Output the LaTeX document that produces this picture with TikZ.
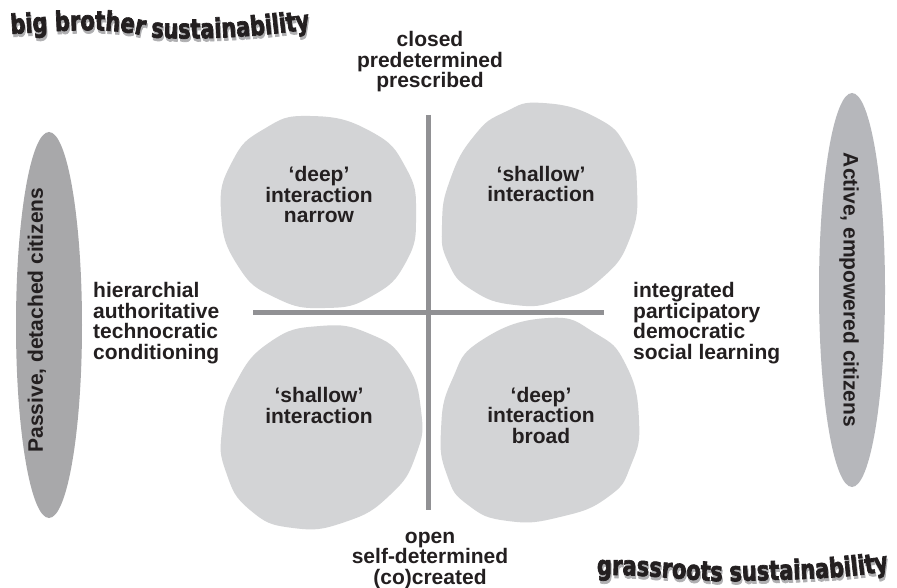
\documentclass[tikz,border=0pt]{standalone}
\usepackage{fontspec}
\setmainfont{Liberation Sans}
\newfontfamily\titlefont[FakeBold=2.5, FakeStretch=0.86]{DejaVu Sans Condensed Bold}
\usetikzlibrary{decorations.text}
\definecolor{ink}{RGB}{35,31,32}
\definecolor{blobgray}{RGB}{211,212,214}
\definecolor{axisgray}{RGB}{145,145,148}
\definecolor{leftgray}{RGB}{168,168,170}
\definecolor{rightgray}{RGB}{182,183,187}
\definecolor{shadowgray}{RGB}{175,175,177}
\tikzset{
  lbl/.style={font=\fontsize{21}{20.5}\selectfont\bfseries, text=ink, inner sep=0pt, align=center},
  lbll/.style={lbl, align=left},
  blob/.style={fill=blobgray},
  axis/.style={draw=axisgray, line width=5pt},
}
\begin{document}
\begin{tikzpicture}[x=1pt,y=-1pt]
\fill[white] (0,0) rectangle (897,588);
\useasboundingbox (0,0) rectangle (897,588);
% side ellipses
\fill[leftgray] (49,325) ellipse [x radius=33, y radius=193];
\fill[rightgray] (852,290) ellipse [x radius=33, y radius=197];
% blobs
\fill[blob] plot[smooth cycle, tension=0.85] coordinates {(310,116) (370,131) (406,168) (416,215) (406,262) (372,296) (325,308) (276,298) (238,266) (221,212) (232,162) (264,129)};
\fill[blob] plot[smooth cycle, tension=0.85] coordinates {(543,103) (597,118) (627,148) (637,188) (630,238) (602,278) (560,300) (515,305) (472,290) (448,262) (442,225) (450,180) (474,136) (505,112)};
\fill[blob] plot[smooth cycle, tension=0.85] coordinates {(320,326) (370,334) (405,362) (421,410) (416,455) (390,495) (345,522) (293,528) (250,510) (226,472) (222,430) (235,384) (270,342)};
\fill[blob] plot[smooth cycle, tension=0.85] coordinates {(548,318) (595,333) (626,365) (639,420) (631,465) (608,497) (560,517) (508,521) (468,505) (447,475) (441,430) (452,380) (482,340)};
% axes
\coordinate (vtop) at (428,115);
\coordinate (vbot) at (428,510);
\coordinate (hl) at (253,312);
\coordinate (hr) at (604,312);
\draw[axis] (vtop) -- (vbot);
\draw[axis] (hl) -- (hr);
% labels (anchor base = baseline of the last line)
\node[lbl, anchor=base] (closed) at (430,88) {closed\\predetermined\\prescribed};
\node[lbl, anchor=base] (open) at (430,584) {open\\self-determined\\(co)created};
\node[lbll, anchor=base west] (left) at (93,359) {hierarchial\\authoritative\\technocratic\\conditioning};
\node[lbll, anchor=base west] (right) at (633,359) {integrated\\participatory\\democratic\\social learning};
\node[lbl, anchor=base] (tl) at (319,223) {`deep'\\interaction\\narrow};
\node[lbl, anchor=base] (tr) at (541,202) {`shallow'\\interaction};
\node[lbl, anchor=base] (bl) at (319,423) {`shallow'\\interaction};
\node[lbl, anchor=base] (br) at (541,443) {`deep'\\interaction\\broad};
\node[lbl, rotate=90] (passive) at (37,320) {Passive, detached citizens};
\node[lbl, rotate=-90] (active) at (849,290) {Active, empowered citizens};
% titles
\path[decorate, decoration={text along path, text align=left,
  text={|\titlefont\fontsize{27}{27}\selectfont\color{shadowgray}|big brother sustainability}}]
  (12,37) .. controls (60,34) and (110,29) .. (150,40) .. controls (190,44) and (270,40) .. (330,29);
\path[decorate, decoration={text along path, text align=left,
  text={|\titlefont\fontsize{27}{27}\selectfont\color{ink}|big brother sustainability}}]
  (11,34) .. controls (59,31) and (109,26) .. (149,37) .. controls (189,41) and (269,37) .. (329,26);
\path[decorate, decoration={text along path, text align=left,
  text={|\titlefont\fontsize{27}{27}\selectfont\color{shadowgray}|grassroots sustainability}}]
  (598,578) .. controls (660,577) and (700,586) .. (740,584) .. controls (800,582) and (860,582) .. (905,570);
\path[decorate, decoration={text along path, text align=left,
  text={|\titlefont\fontsize{27}{27}\selectfont\color{ink}|grassroots sustainability}}]
  (597,575) .. controls (659,574) and (699,583) .. (739,581) .. controls (799,579) and (859,579) .. (904,567);
\end{tikzpicture}
\end{document}
